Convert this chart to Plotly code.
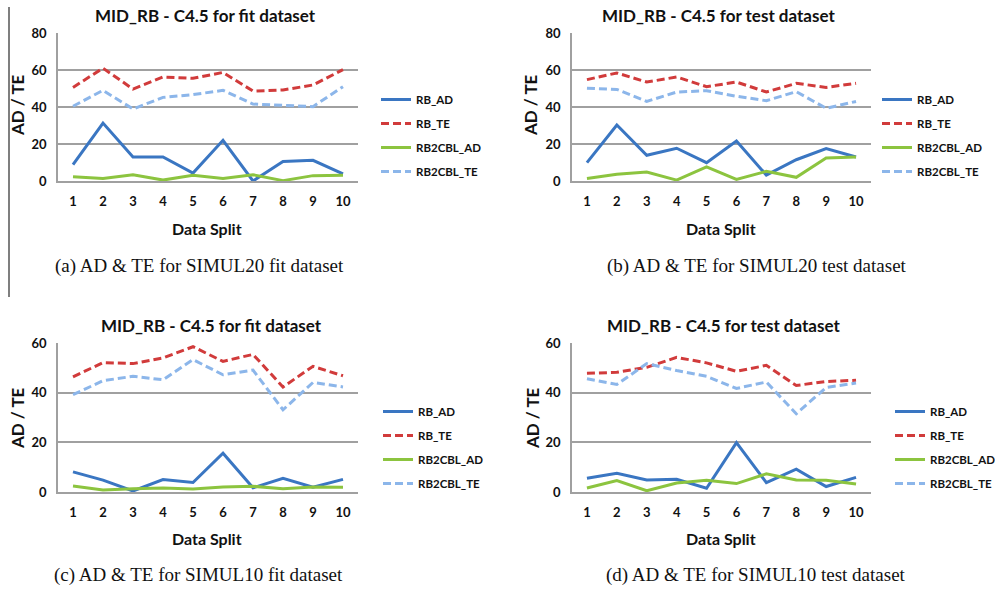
import plotly.graph_objects as go

W, H = 995, 589
splits = [str(i) for i in range(1, 11)]
series_names = ["RB_AD", "RB_TE", "RB2CBL_AD", "RB2CBL_TE"]

# Panel (a) SIMUL20 fit
a_rb_ad = [8.8, 31.3, 13.0, 13.0, 4.3, 22.0, 0.0, 10.5, 11.2, 3.8]
a_rb_te = [50.6, 61.0, 49.7, 56.2, 55.5, 58.7, 48.6, 49.2, 51.9, 60.2]
a_cbl_ad = [2.3, 1.3, 3.4, 0.5, 3.1, 1.3, 3.4, 0.2, 2.9, 3.1]
a_cbl_te = [40.4, 49.0, 38.9, 45.2, 46.7, 49.0, 41.6, 40.9, 40.2, 51.0]

# Panel (b) SIMUL20 test
b_rb_ad = [9.9, 30.3, 13.9, 17.7, 9.9, 21.6, 3.2, 11.5, 17.5, 13.0]
b_rb_te = [54.8, 58.4, 53.5, 56.2, 51.0, 53.5, 48.1, 52.8, 50.6, 52.8]
b_cbl_ad = [1.3, 3.6, 4.9, 0.5, 7.7, 0.9, 5.2, 2.0, 12.4, 13.0]
b_cbl_te = [50.1, 49.5, 43.0, 48.1, 48.8, 45.8, 43.4, 48.3, 39.3, 43.0]

# Panel (c) SIMUL10 fit
c_rb_ad = [8.1, 4.8, 0.4, 5.0, 3.8, 15.6, 1.7, 5.5, 1.9, 5.1]
c_rb_te = [46.4, 52.1, 51.7, 54.0, 58.5, 52.6, 55.4, 42.3, 50.6, 46.8]
c_cbl_ad = [2.4, 0.8, 1.3, 1.6, 1.2, 2.0, 2.3, 1.3, 2.0, 1.9]
c_cbl_te = [39.2, 44.8, 46.6, 45.2, 53.3, 47.2, 49.1, 33.1, 44.1, 42.3]

# Panel (d) SIMUL10 test
d_rb_ad = [5.5, 7.5, 4.8, 5.1, 1.5, 19.9, 3.8, 9.2, 2.2, 5.9]
d_rb_te = [47.8, 48.2, 50.2, 54.2, 52.0, 48.6, 51.0, 42.9, 44.5, 45.0]
d_cbl_ad = [1.6, 4.6, 0.5, 3.6, 4.7, 3.4, 7.3, 4.8, 4.7, 3.2]
d_cbl_te = [45.6, 43.3, 51.7, 48.9, 46.6, 41.7, 44.3, 31.5, 42.1, 43.9]

chart_titles = ["MID_RB - C4.5 for fit dataset", "MID_RB - C4.5 for test dataset",
                "MID_RB - C4.5 for fit dataset", "MID_RB - C4.5 for test dataset"]
captions = ["(a) AD &amp; TE for SIMUL20 fit dataset", "(b) AD &amp; TE for SIMUL20 test dataset",
            "(c) AD &amp; TE for SIMUL10 fit dataset", "(d) AD &amp; TE for SIMUL10 test dataset"]
y_max = [80, 80, 60, 60]

panels = [
    [a_rb_ad, a_rb_te, a_cbl_ad, a_cbl_te],
    [b_rb_ad, b_rb_te, b_cbl_ad, b_cbl_te],
    [c_rb_ad, c_rb_te, c_cbl_ad, c_cbl_te],
    [d_rb_ad, d_rb_te, d_cbl_ad, d_cbl_te],
]

colors = ["#3a76c2", "#d13b3b", "#8cc43f", "#8cb6ea"]
dashes = ["solid", "8px,4px", "solid", "8px,4px"]

# pixel geometry of each panel: x0, x1 (plot), y_top, y_bottom
geo = [
    (58, 358, 33, 181),
    (572, 871, 33, 181),
    (58, 358, 343, 492),
    (572, 871, 343, 492),
]
legend_pos = [(376, 85), (877, 85), (378, 397), (890, 397)]
ytitle_x = [17, 530, 17, 532]
ytitle_y = [105, 105, 418, 418]
xtitle_y = [228, 228, 538, 538]
title_x = [205, 718, 211, 723]
title_y = [15, 15, 325, 325]
caption_y = [266, 266, 575, 575]
caption_x = [199, 757, 198, 756]

FONT = "Lato"
fig = go.Figure()
annotations = []
layout = {}


def ann(text, px, py, size, family=FONT, bold=True, angle=0):
    return dict(text=text, x=px / W, y=1 - py / H, xref="paper", yref="paper",
                xanchor="center", yanchor="middle", showarrow=False, textangle=angle,
                font=dict(family=family, size=size, color="#111",
                          weight="bold" if bold else "normal"))


for p in range(4):
    x0, x1, yt, yb = geo[p]
    sfx = "" if p == 0 else str(p + 1)
    leg = "legend" if p == 0 else f"legend{p + 1}"
    for s in range(4):
        fig.add_trace(go.Scatter(
            x=splits, y=panels[p][s], name=series_names[s], mode="lines",
            line=dict(color=colors[s], width=3, dash=dashes[s]),
            xaxis="x" + sfx, yaxis="y" + sfx, legend=leg,
            legendgroup=f"g{p}{s}",
        ))
    layout["xaxis" + sfx] = dict(
        domain=[x0 / W, x1 / W], anchor="y" + sfx, type="category",
        range=[-0.5, 9.5], showgrid=False, showline=True, linecolor="#a0a0a0", linewidth=1.5,
        ticks="", ticklabelstandoff=8, automargin=False,
        tickfont=dict(family=FONT, size=13, color="#111", weight="bold"),
    )
    layout["yaxis" + sfx] = dict(
        domain=[1 - yb / H, 1 - yt / H], anchor="x" + sfx, range=[0, y_max[p]],
        dtick=20, showgrid=True, gridcolor="#a0a0a0", gridwidth=1.5,
        showline=True, linecolor="#a0a0a0", linewidth=1.5, zeroline=False,
        ticks="", ticklabelstandoff=7, automargin=False,
        tickfont=dict(family=FONT, size=13, color="#111", weight="bold"),
    )
    lx, ly = legend_pos[p]
    layout[leg] = dict(
        x=lx / W, y=1 - ly / H, xanchor="left", yanchor="top",
        bgcolor="rgba(0,0,0,0)", tracegroupgap=5, itemwidth=30,
        font=dict(family=FONT, size=11.5, color="#111", weight="bold"),
    )
    cx = (x0 + x1) / 2
    annotations += [
        ann(chart_titles[p], title_x[p], title_y[p], 17),
        ann("AD / TE", ytitle_x[p], ytitle_y[p], 17, angle=-90),
        ann("Data Split", cx - 1, xtitle_y[p], 16),
        ann(captions[p], caption_x[p], caption_y[p], 19, family="Liberation Serif", bold=False),
    ]

fig.update_layout(
    width=W, height=H, margin=dict(l=0, r=0, t=0, b=0, autoexpand=False),
    paper_bgcolor="white", plot_bgcolor="white",
    annotations=annotations,
    shapes=[dict(type="line", xref="paper", yref="paper", x0=9 / W, x1=9 / W,
                 y0=1 - 7 / H, y1=1 - 297 / H, line=dict(color="#555", width=1.5))],
    **layout,
)
fig.write_html("out.html")
